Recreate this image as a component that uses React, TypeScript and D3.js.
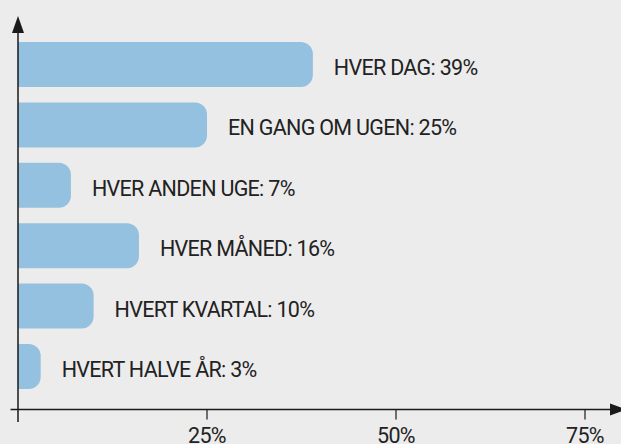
import React from "react";
import * as d3 from "d3";

const categories = [
  "HVER DAG",
  "EN GANG OM UGEN",
  "HVER ANDEN UGE",
  "HVER MÅNED",
  "HVERT KVARTAL",
  "HVERT HALVE ÅR",
];
const values = [39, 25, 7, 16, 10, 3];
const tickValues = [25, 50, 75];

const W = 621;
const H = 444;
const FONT = "Roboto, 'Noto Sans', sans-serif";

export default function App() {
  const x = d3.scaleLinear().domain([0, 75]).range([18, 585]);
  const y = d3
    .scaleBand<string>()
    .domain(categories)
    .range([42, 389])
    .paddingInner(0.255)
    .paddingOuter(0);
  const bw = y.bandwidth();
  const r = 12;
  const axisY = 409.5;
  const axisX = 18;

  const barPath = (x0: number, x1: number, y0: number, h: number) => {
    const rr = Math.min(r, x1 - x0, h / 2);
    return `M${x0},${y0}H${x1 - rr}A${rr},${rr} 0 0 1 ${x1},${y0 + rr}V${y0 + h - rr}A${rr},${rr} 0 0 1 ${x1 - rr},${y0 + h}H${x0}Z`;
  };

  return (
    <svg
      width={W}
      height={H}
      style={{ position: "absolute", left: 0, top: 0, background: "#ececec" }}
    >
      <rect x={0} y={0} width={W} height={H} fill="#ececec" />
      {categories.map((c, i) => {
        const y0 = y(c)!;
        const x1 = x(values[i]);
        return (
          <g key={c}>
            <path d={barPath(x(0), x1, y0, bw)} fill="#93c1df" />
            <text
              x={x1 + 21}
              y={y0 + bw / 2 + 10.5}
              fontFamily={FONT}
              fontSize={21.5}
              letterSpacing={-0.7}
              fill="#222"
            >
              {`${c}: ${values[i]}%`}
            </text>
          </g>
        );
      })}
      {/* y axis */}
      <line x1={axisX} x2={axisX} y1={30} y2={422} stroke="#1a1a1a" strokeWidth={1.5} />
      <path d={`M${axisX},16L${axisX + 6},33L${axisX - 6},33Z`} fill="#1a1a1a" />
      {/* x axis */}
      <line x1={10.5} x2={612} y1={axisY} y2={axisY} stroke="#1a1a1a" strokeWidth={1.5} />
      <path d={`M627,${axisY}L610,${axisY - 6}L610,${axisY + 6}Z`} fill="#1a1a1a" />
      {tickValues.map((t) => (
        <g key={t}>
          <line x1={x(t)} x2={x(t)} y1={axisY} y2={axisY + 10} stroke="#1a1a1a" strokeWidth={1.2} />
          <text
            x={x(t)}
            y={443}
            textAnchor="middle"
            fontFamily={FONT}
            fontSize={21.5}
            letterSpacing={-0.7}
            fill="#222"
          >
            {`${t}%`}
          </text>
        </g>
      ))}
    </svg>
  );
}
